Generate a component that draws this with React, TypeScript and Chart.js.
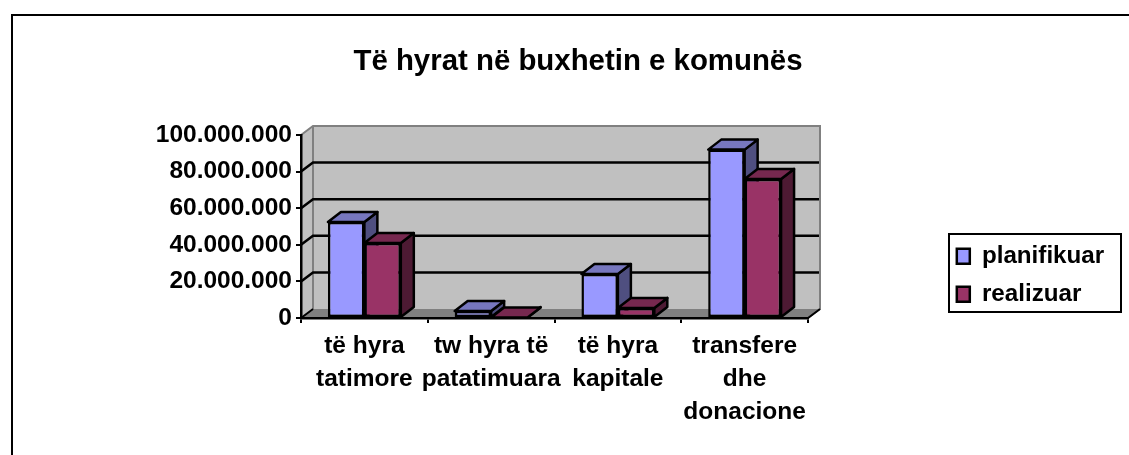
import React, { useEffect, useRef } from "react";
import { Chart, registerables } from "chart.js";

Chart.register(...registerables);

const categories = [
  ["të hyra", "tatimore"],
  ["tw hyra të", "patatimuara"],
  ["të hyra", "kapitale"],
  ["transfere", "dhe", "donacione"],
];
const planifikuar = [52400000, 3800000, 24000000, 92000000];
const realizuar = [41000000, 300000, 5500000, 76000000];
const titleText = "Të hyrat në buxhetin e komunës";
const FONT = "'Liberation Sans', Arial, sans-serif";

const wallDX = 12;
const wallDY = -9;
const barDX = 13;
const barDY = -10;
const LINE = 2.5;
const faces = [
  { top: "#7777BF", side: "#4F4F80" },
  { top: "#76284F", side: "#4D1A33" },
];

function poly(ctx: any, pts: number[][], fill: string | null, stroke: string | null, lw = LINE) {
  ctx.beginPath();
  pts.forEach((p, i) => (i ? ctx.lineTo(p[0], p[1]) : ctx.moveTo(p[0], p[1])));
  ctx.closePath();
  if (fill) {
    ctx.fillStyle = fill;
    ctx.fill();
  }
  if (stroke) {
    ctx.strokeStyle = stroke;
    ctx.lineWidth = lw;
    ctx.lineJoin = "round";
    ctx.stroke();
  }
}

const scene3d = {
  id: "scene3d",
  beforeLayout(chart: any) {
    const l = chart.legend;
    if (l && !l.__patched) {
      const orig = l.fit;
      l.fit = function () {
        orig.call(this);
        this.width = 321;
      };
      l.__patched = true;
    }
  },
  afterLayout(chart: any) {
    const l = chart.legend;
    l.left = 943;
    l.right = 1121;
    l.top = 230.25;
    l.bottom = 400;
    const t = chart.titleBlock;
    if (t) {
      t.left = 0;
      t.right = 1156;
    }
  },
  beforeDraw(chart: any) {
    const { ctx, chartArea: a, scales } = chart;
    ctx.save();
    // page frame
    ctx.strokeStyle = "#000";
    ctx.lineWidth = 2;
    ctx.beginPath();
    ctx.moveTo(12, 455);
    ctx.lineTo(12, 15);
    ctx.lineTo(1129, 15);
    ctx.stroke();
    // walls and floor
    const bx = a.left + wallDX;
    const bR = a.right + wallDX;
    const bt = a.top + wallDY;
    const bb = a.bottom + wallDY;
    poly(ctx, [[a.left, a.top], [bx, bt], [bx, bb], [a.left, a.bottom]], "#C0C0C0", null);
    ctx.fillStyle = "#C0C0C0";
    ctx.fillRect(bx, bt, bR - bx, bb - bt);
    poly(ctx, [[a.left, a.bottom], [bx, bb], [bR, bb], [a.right, a.bottom]], "#808080", null);
    ctx.strokeStyle = "#808080";
    ctx.lineWidth = 2;
    ctx.beginPath();
    ctx.moveTo(a.left, a.top);
    ctx.lineTo(bx, bt);
    ctx.lineTo(bR, bt);
    ctx.lineTo(bR, bb);
    ctx.lineTo(a.right, a.bottom);
    ctx.moveTo(bx, bt);
    ctx.lineTo(bx, bb);
    ctx.stroke();
    // gridlines on the back wall, from the y scale's ticks
    ctx.strokeStyle = "#000";
    ctx.lineWidth = LINE;
    scales.y.ticks.forEach((t: any) => {
      if (t.value === 100000000 || t.value === 0) return;
      const y = scales.y.getPixelForValue(t.value);
      ctx.beginPath();
      ctx.moveTo(a.left, y);
      ctx.lineTo(bx, y + wallDY);
      ctx.lineTo(bR - 1, y + wallDY);
      ctx.stroke();
    });
    ctx.lineWidth = 2;
    ctx.beginPath();
    ctx.moveTo(a.left, a.bottom);
    ctx.lineTo(bx, bb);
    ctx.moveTo(a.right, a.bottom);
    ctx.lineTo(bR, bb);
    ctx.strokeStyle = "#000";
    ctx.stroke();
    // legend box
    ctx.fillStyle = "#fff";
    ctx.strokeStyle = "#000";
    ctx.lineWidth = 2;
    ctx.fillRect(949, 234, 172, 78);
    ctx.strokeRect(949, 234, 172, 78);
    ctx.restore();
  },
  beforeDatasetsDraw(chart: any) {
    const { ctx } = chart;
    ctx.save();
    chart.data.datasets.forEach((_: any, di: number) => {
      chart.getDatasetMeta(di).data.forEach((b: any) => {
        const l = b.x - b.width / 2;
        const r = b.x + b.width / 2;
        const t = b.y;
        const base = b.base;
        poly(ctx, [[r, t], [r + barDX, t + barDY], [r + barDX, base + barDY], [r, base]], faces[di].side, "#000");
        poly(ctx, [[l, t], [l + barDX, t + barDY], [r + barDX, t + barDY], [r, t]], faces[di].top, "#000");
      });
    });
    ctx.restore();
  },
};

export default function App() {
  const ref = useRef<HTMLCanvasElement | null>(null);
  useEffect(() => {
    const chart = new Chart(ref.current as HTMLCanvasElement, {
      type: "bar",
      data: {
        labels: categories,
        datasets: [
          {
            label: "planifikuar",
            data: planifikuar,
            backgroundColor: "#9999FF",
            borderColor: "#000",
            borderWidth: LINE,
            borderSkipped: false,
          },
          {
            label: "realizuar",
            data: realizuar,
            backgroundColor: "#993366",
            borderColor: "#000",
            borderWidth: LINE,
            borderSkipped: false,
          },
        ],
      },
      options: {
        responsive: false,
        animation: false,
        layout: { padding: 0 },
        datasets: { bar: { categoryPercentage: 0.575, barPercentage: 1 } },
        plugins: {
          tooltip: { enabled: false },
          title: {
            display: true,
            text: titleText,
            color: "#000",
            font: { family: FONT, size: 29.4, weight: "bold", lineHeight: 1.2 },
            padding: { top: 44, bottom: 55.7 },
          },
          legend: {
            display: true,
            position: "right",
            align: "start",
            labels: {
              color: "#000",
              font: { family: FONT, size: 24.2, weight: "bold" },
              boxWidth: 13,
              boxHeight: 15,
              padding: 13.8,
            },
          },
        },
        scales: {
          x: {
            offset: true,
            afterFit: (s: any) => {
              s.height = 137;
            },
            border: { color: "#000", width: 2.5 },
            grid: {
              color: "#000",
              lineWidth: 2,
              drawOnChartArea: false,
              drawTicks: true,
              tickLength: 5,
              offset: true,
            },
            ticks: {
              color: "#000",
              autoSkip: false,
              maxRotation: 0,
              padding: 7,
              font: { family: FONT, size: 24.5, weight: "bold", lineHeight: 1.35 },
            },
          },
          y: {
            min: 0,
            max: 100000000,
            afterFit: (s: any) => {
              s.width = 301;
            },
            border: { color: "#000", width: 2.5 },
            grid: {
              color: "#000",
              lineWidth: 2,
              drawOnChartArea: false,
              drawTicks: true,
              tickLength: 5,
            },
            ticks: {
              color: "#000",
              stepSize: 20000000,
              padding: 4,
              font: { family: FONT, size: 24.5, weight: "bold" },
              callback: (v: any) => String(v).replace(/\B(?=(\d{3})+$)/g, "."),
            },
          },
        },
      },
      plugins: [scene3d],
    } as any);
    return () => chart.destroy();
  }, []);
  return (
    <div style={{ position: "fixed", left: 0, top: 0 }}>
      <canvas ref={ref} width={1129} height={455} style={{ display: "block" }} />
    </div>
  );
}
